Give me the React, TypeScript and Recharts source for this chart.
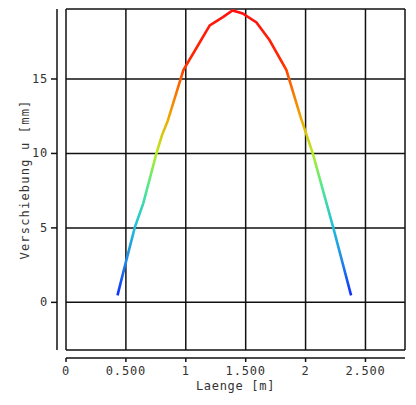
import React from "react";
import {
  LineChart,
  Line,
  XAxis,
  YAxis,
  CartesianGrid,
  ReferenceArea,
} from "recharts";

// Laenge [m]
const laenge = [
  0.43, 0.49, 0.575, 0.645, 0.755, 0.8, 0.85, 0.98, 1.09, 1.2, 1.31, 1.39,
  1.475, 1.59, 1.7, 1.84, 1.96, 2.06, 2.23, 2.38,
];
// Verschiebung u [mm]
const verschiebung = [
  0.47, 2.4, 5.05, 6.65, 10.0, 11.2, 12.2, 15.6, 17.1, 18.6, 19.15, 19.6,
  19.4, 18.8, 17.6, 15.6, 12.4, 10.0, 5.05, 0.47,
];

const xTicks = [0, 0.5, 1, 1.5, 2, 2.5];
const xTickLabels = ["0", "0.500", "1", "1.500", "2", "2.500"];
const yTicks = [0, 5, 10, 15];

const data = laenge.map((x, i) => ({ x, u: verschiebung[i] }));

const font = "'DejaVu Sans Mono', monospace";
const ink = "#111";

function XTick(props: any) {
  const { x, y, payload } = props;
  const i = xTicks.indexOf(payload.value);
  return (
    <g>
      <line x1={x} x2={x} y1={y + 8} y2={y + 12} stroke={ink} strokeWidth={1.5} />
      <text
        x={x}
        y={y + 25}
        textAnchor="middle"
        fontFamily={font}
        fontSize={12}
        letterSpacing={0.8}
        fill="#333"
      >
        {i >= 0 ? xTickLabels[i] : payload.value}
      </text>
    </g>
  );
}

function YTick(props: any) {
  const { x, y, payload } = props;
  return (
    <g>
      <line x1={x - 15} x2={x - 9} y1={y} y2={y} stroke={ink} strokeWidth={1.5} />
      <text
        x={x - 18}
        y={y + 4}
        textAnchor="end"
        fontFamily={font}
        fontSize={12}
        letterSpacing={0.8}
        fill="#333"
      >
        {payload.value}
      </text>
    </g>
  );
}

export default function App() {
  return (
    <div style={{ position: "absolute", left: 0, top: 0, background: "#fff" }}>
      <LineChart
        width={416}
        height={405}
        data={data}
        margin={{ top: 9, right: 11, bottom: 0, left: 0 }}
      >
        <defs>
          <linearGradient id="jet" x1="0" y1="0" x2="0" y2="1">
            <stop offset="0%" stopColor="#ff1010" />
            <stop offset="18%" stopColor="#ff2a00" />
            <stop offset="24%" stopColor="#ff5a00" />
            <stop offset="38%" stopColor="#f0a800" />
            <stop offset="50%" stopColor="#b8ec20" />
            <stop offset="62%" stopColor="#50e890" />
            <stop offset="76%" stopColor="#20c0d8" />
            <stop offset="88%" stopColor="#2088e8" />
            <stop offset="100%" stopColor="#1030ff" />
          </linearGradient>
        </defs>
        <CartesianGrid stroke={ink} strokeWidth={1.5} />
        <XAxis
          dataKey="x"
          type="number"
          domain={[0, 2.83]}
          ticks={xTicks}
          height={55}
          tickSize={0}
          tickMargin={0}
          tickLine={false}
          tick={<XTick />}
          axisLine={{ stroke: ink, strokeWidth: 1.5, transform: "translate(0, 8)" }}
          label={{
            value: "Laenge [m]",
            position: "insideTop",
            offset: 31,
            fontFamily: font,
            fontSize: 12,
            letterSpacing: 0.7,
            fill: "#333",
          }}
        />
        <YAxis
          type="number"
          domain={[-3.2, 19.7]}
          ticks={yTicks}
          width={66}
          tickSize={0}
          tickMargin={0}
          tickLine={false}
          tick={<YTick />}
          axisLine={{ stroke: ink, strokeWidth: 1.5, transform: "translate(-9, 0)" }}
          allowDataOverflow
          label={{
            value: "Verschiebung u [mm]",
            position: "insideLeft",
            angle: -90,
            offset: 25,
            textAnchor: "middle",
            fontFamily: font,
            fontSize: 12,
            letterSpacing: 1.2,
            fill: "#333",
          }}
        />
        <ReferenceArea fill="none" stroke={ink} strokeWidth={1.5} ifOverflow="visible" />
        <Line
          type="linear"
          dataKey="u"
          stroke="url(#jet)"
          strokeWidth={2.6}
          dot={false}
          isAnimationActive={false}
        />
      </LineChart>
    </div>
  );
}
